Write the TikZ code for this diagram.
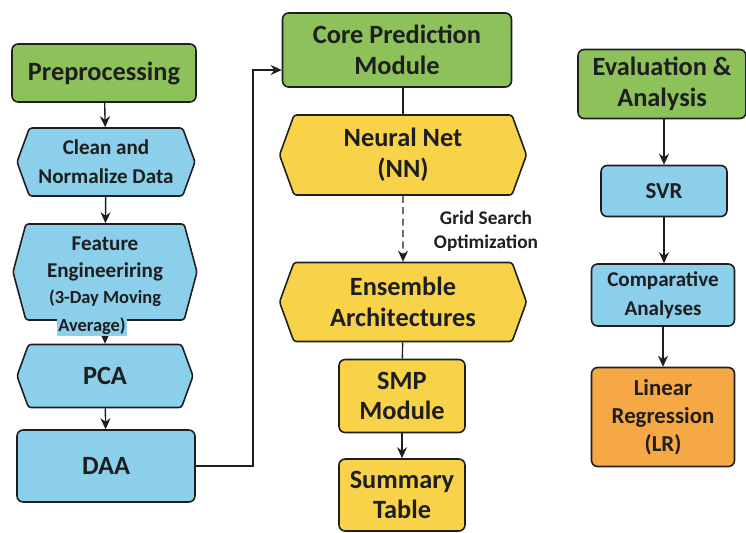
\documentclass[tikz,border=0pt]{standalone}
\usepackage{fontspec}
\setmainfont{Carlito}
\usetikzlibrary{shapes.symbols,arrows.meta}
\definecolor{BoxGreen}{HTML}{8DC15A}
\definecolor{BoxBlue}{HTML}{8BCFEB}
\definecolor{BoxYellow}{HTML}{F8D34A}
\definecolor{BoxOrange}{HTML}{F6A844}
\definecolor{Ink}{HTML}{1E1E1E}
\newcommand\FontL{\bfseries\fontsize{15}{17.5}\selectfont}
\newcommand\FontM{\bfseries\fontsize{13}{16}\selectfont}
\newcommand\FontS{\bfseries\fontsize{12}{16.5}\selectfont}
\tikzset{
  box/.style={draw=Ink, line width=0.9pt, rounded corners=3.5pt, align=center, text=Ink, inner sep=2pt},
  hexa/.style={draw=Ink, line width=0.9pt, signal, signal to=west and east, signal pointer angle=140, rounded corners=1.5pt, align=center, text=Ink, inner sep=2pt},
  arr/.style={draw=Ink, line width=0.8pt, -{Stealth[length=2.2mm,width=2mm]}},
  link/.style={draw=Ink, line width=0.8pt},
}
\begin{document}
\begin{tikzpicture}[x=0.02cm, y=-0.02cm]
  \useasboundingbox (0,0) rectangle (746,532);
  % preprocessing column
  \node[box, fill=BoxGreen, minimum width=3.68cm, minimum height=1.16cm, font=\FontL] (Preproc) at (104,73) {Preprocessing};
  \node[hexa, fill=BoxBlue, minimum width=3.56cm, minimum height=1.36cm, font=\FontS] (Clean) at (106,162) {Clean and\\Normalize Data};
  \node[hexa, fill=BoxBlue, minimum width=3.68cm, minimum height=1.92cm, font=\bfseries\fontsize{12}{15}\selectfont, signal pointer angle=150] (Feature) at (105,272) {Feature\\Engineeriring\\{\fontsize{10.5}{12}\selectfont(3-Day Moving}};
  \node[hexa, fill=BoxBlue, minimum width=3.52cm, minimum height=1.26cm, font=\FontL] (PCA) at (105,376) {PCA};
  \node[box, fill=BoxBlue, minimum width=3.56cm, minimum height=1.44cm, font=\FontL] (DAA) at (106,466) {DAA};
  \draw[arr] (Preproc) -- (Clean);
  \draw[arr] (Clean) -- (Feature);
  \draw[arr] (Feature) -- (PCA);
  \node[fill=BoxBlue, inner sep=1pt, text=Ink, font=\bfseries\fontsize{10.5}{12}\selectfont] (Avg) at (92,326) {Average)};
  \draw[arr] (PCA) -- (DAA);
  % core column
  \node[box, fill=BoxGreen, minimum width=4.58cm, minimum height=1.48cm, font=\FontL] (Core) at (397,50) {Core Prediction\\Module};
  \node[hexa, fill=BoxYellow, minimum width=4.94cm, minimum height=1.6cm, font=\FontL] (NN) at (403,155) {Neural Net\\(NN)};
  \node[hexa, fill=BoxYellow, minimum width=4.94cm, minimum height=1.58cm, font=\FontL] (Ens) at (403,302) {Ensemble\\Architectures};
  \node[box, fill=BoxYellow, minimum width=2.52cm, minimum height=1.46cm, font=\FontL] (SMP) at (402,396) {SMP\\Module};
  \node[box, fill=BoxYellow, minimum width=2.52cm, minimum height=1.44cm, font=\FontL] (Summary) at (402,495) {Summary\\Table};
  \node[align=center, text=Ink, font=\bfseries\fontsize{11}{13.5}\selectfont] (Grid) at (486,231) {Grid Search\\Optimization};
  \draw[link] (NN.north) -- (NN.north |- Core.south);
  \draw[arr, dash pattern=on 4pt off 2.5pt] (NN) -- (Ens);
  \draw[link] (Ens) -- (SMP);
  \draw[arr] (SMP) -- (Summary);
  \coordinate (Bend) at (253,70);
  \draw[arr] (DAA.east) -| (Bend) -- (Bend -| Core.west);
  % evaluation column
  \node[box, fill=BoxGreen, minimum width=3.36cm, minimum height=1.38cm, font=\FontL] (Eval) at (662,84) {Evaluation \&\\Analysis};
  \node[box, fill=BoxBlue, minimum width=2.52cm, minimum height=1.02cm, font=\FontM] (SVR) at (664,191) {SVR};
  \node[box, fill=BoxBlue, minimum width=2.86cm, minimum height=1.24cm, font=\FontS] (Comp) at (663,295) {Comparative\\Analyses};
  \node[box, fill=BoxOrange, minimum width=2.86cm, minimum height=1.98cm, font=\FontM] (LR) at (663,417) {Linear\\Regression\\(LR)};
  \draw[arr] (Eval.south -| SVR) -- (SVR);
  \draw[arr] (SVR) -- (SVR |- Comp.north);
  \draw[arr] (Comp) -- (LR);
\end{tikzpicture}
\end{document}
